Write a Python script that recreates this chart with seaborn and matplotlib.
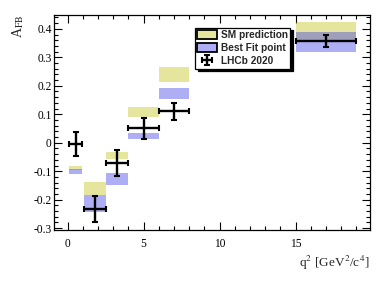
import matplotlib

matplotlib.use("Agg")

import matplotlib.pyplot as plt
from matplotlib.patches import Patch
from matplotlib.ticker import FuncFormatter, MultipleLocator
import numpy as np
import seaborn as sns

# q^2 bins (GeV^2/c^4)
bin_lo = [0.1, 1.1, 2.5, 4.0, 6.0, 15.0]
bin_hi = [0.98, 2.5, 4.0, 6.0, 8.0, 19.0]

# LHCb 2020 measurement
afb = [-0.004, -0.232, -0.072, 0.050, 0.111, 0.358]
afb_err = [0.041, 0.046, 0.045, 0.036, 0.030, 0.022]

# SM prediction band
sm_lo = [-0.097, -0.185, -0.057, 0.091, 0.214, 0.353]
sm_hi = [-0.082, -0.137, -0.033, 0.125, 0.267, 0.423]

# best fit point band
fit_lo = [-0.111, -0.245, -0.150, 0.012, 0.152, 0.319]
fit_hi = [-0.091, -0.185, -0.105, 0.035, 0.193, 0.388]

YELLOW = (0.75, 0.75, 0.05, 0.40)
BLUE = (0.25, 0.25, 0.90, 0.42)

sns.set_theme(style="ticks")
plt.rcParams.update(
    {
        "font.family": ["Liberation Serif", "DejaVu Serif"],
        "mathtext.fontset": "stix",
        "axes.edgecolor": "black",
        "axes.linewidth": 0.9,
        "xtick.direction": "in",
        "ytick.direction": "in",
        "xtick.top": True,
        "ytick.right": True,
        "xtick.major.size": 6,
        "ytick.major.size": 6,
        "xtick.minor.size": 3,
        "ytick.minor.size": 3,
        "xtick.major.width": 0.8,
        "ytick.major.width": 0.8,
        "xtick.minor.width": 0.8,
        "ytick.minor.width": 0.8,
        "xtick.color": "black",
        "ytick.color": "black",
        "xtick.labelsize": 8.3,
        "ytick.labelsize": 8.3,
    }
)

lo = np.array(bin_lo)
hi = np.array(bin_hi)
centre = (lo + hi) / 2
width = hi - lo

fig = plt.figure(figsize=(3.9, 2.81), dpi=100)
ax = fig.add_axes([0.138, 0.181, 0.811, 0.767])

ax.bar(lo, np.array(sm_hi) - np.array(sm_lo), bottom=sm_lo, width=width,
       align="edge", color=YELLOW, linewidth=0)
ax.bar(lo, np.array(fit_hi) - np.array(fit_lo), bottom=fit_lo, width=width,
       align="edge", color=BLUE, linewidth=0)
data = ax.errorbar(centre, afb, xerr=width / 2, yerr=afb_err, fmt="none",
                   ecolor="black", elinewidth=1.7, capsize=2.2, capthick=1.5,
                   zorder=5)

ax.set_xlim(-0.9, 19.9)
ax.set_ylim(-0.307, 0.45)
ax.xaxis.set_major_locator(MultipleLocator(5))
ax.xaxis.set_minor_locator(MultipleLocator(1))
ax.yaxis.set_major_locator(MultipleLocator(0.1))
ax.yaxis.set_minor_locator(MultipleLocator(0.02))
ax.yaxis.set_major_formatter(FuncFormatter(lambda v, _: f"{v:.1f}" if abs(v) > 1e-9 else "0"))
ax.tick_params(axis="x", which="major", pad=6)
ax.tick_params(axis="y", which="major", pad=1.5)

ax.set_xlabel(r"q$^{2}$ [GeV$^{2}$/c$^{4}$]", fontsize=9.5, loc="right", labelpad=2.5)
ax.set_ylabel(r"A$_{\mathrm{FB}}$", fontsize=10, loc="top", labelpad=2)
ax.yaxis.set_label_coords(-0.088, 1.0)

handles = [
    Patch(facecolor=YELLOW, edgecolor="black", linewidth=1.3),
    Patch(facecolor=BLUE, edgecolor="black", linewidth=1.3),
    data,
]
labels = ["SM prediction", "Best Fit point", "LHCb 2020"]
leg = ax.legend(
    handles, labels,
    loc="upper left", bbox_to_anchor=(0.446, 0.94),
    prop={"family": "Liberation Sans", "weight": "bold", "size": 7.3},
    frameon=True, fancybox=False, edgecolor="black", framealpha=1,
    shadow={"facecolor": "black", "edgecolor": "black", "alpha": 1},
    borderpad=0.25, labelspacing=0.3, handlelength=1.9, handleheight=0.9,
    handletextpad=0.4, borderaxespad=0,
)
leg.get_frame().set_linewidth(0.9)
leg.set_zorder(10)

fig.savefig("out.png", dpi=100)
